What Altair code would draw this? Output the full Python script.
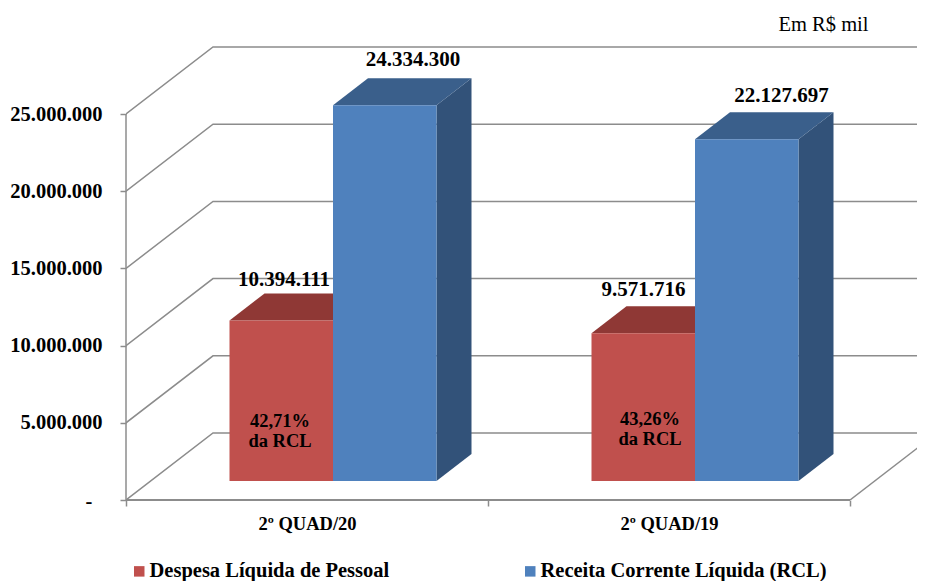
import altair as alt
import pandas as pd

# --- chart values -----------------------------------------------------------
categories = ["2º QUAD/20", "2º QUAD/19"]
series = ["Despesa Líquida de Pessoal", "Receita Corrente Líquida (RCL)"]
despesa = [10394111, 9571716]
receita = [24334300, 22127697]
percent_labels = ["42,71%\nda RCL", "43,26%\nda RCL"]
y_ticks = [0, 5000000, 10000000, 15000000, 20000000, 25000000]
zero_label = "-"
unit_note = "Em R$ mil"

# --- layout constants (pixels of the reference) -----------------------------
PLOT_W, PLOT_H = 791, 492
PX_PER_CAT = 362.0
PX_PER_VAL = 77.2 / 5000000.0
px_x = lambda p: p / PX_PER_CAT
px_y = lambda p: p / PX_PER_VAL

x_scale = alt.Scale(domain=[0, PLOT_W / PX_PER_CAT], range=[0, PLOT_W], nice=False, zero=False)
y_scale = alt.Scale(domain=[0, PLOT_H / PX_PER_VAL], range=[PLOT_H, 0], nice=False, zero=False)
GRID = "#8c8c8c"
FONT = "Liberation Serif"

WALL_DX, WALL_DY = px_x(87), px_y(67)
BAR_DX, BAR_DY = px_x(35), px_y(27)
BAR_BASE = px_y(19)
BAR_W = px_x(103.5)
BAR_START = px_x(103.5)
face_colors = {
    series[0]: {"side": "#8a3432", "top": "#8f3835", "front": "#c0504d"},
    series[1]: {"side": "#325279", "top": "#3a5f8b", "front": "#4f81bd"},
}
# label offsets from the front-top-left corner of each bar (px right, px up)
label_off = {(0, 0): (54.5, 41), (0, 1): (80, 45), (1, 0): (52, 43), (1, 1): (86.5, 43)}
pct_pos = [(280, 421), (650, 419)]

x_axis = alt.Axis(
    values=[0, 0.5, 1, 1.5, 2], title=None, grid=False, domain=False,
    labelExpr="datum.value == 0.5 ? '%s' : datum.value == 1.5 ? '%s' : ''" % tuple(categories),
    labelFont=FONT, labelFontSize=18.5, labelFontWeight="bold", labelColor="#000000",
    labelPadding=8, labelFlush=False, labelOverlap=False, labelBound=False,
    tickColor={"expr": "datum.value % 1 == 0 ? '#8c8c8c' : 'transparent'"},
    tickSize=6, tickWidth=1.5,
)
y_axis = alt.Axis(
    values=y_ticks, title=None, grid=False, domain=False,
    labelExpr="datum.value == 0 ? '' : replace(format(datum.value, ',.0f'), /,/g, '.')",
    labelFont=FONT, labelFontSize=20.5, labelFontWeight="bold", labelColor="#000000",
    labelPadding=18, labelOverlap=False, labelBound=False,
    tickColor=GRID, tickSize=6, tickWidth=1.5,
)


def X(field="x", **kw):
    return alt.X(field, type="quantitative", scale=x_scale, axis=x_axis, **kw)


def Y(field="y", **kw):
    return alt.Y(field, type="quantitative", scale=y_scale, axis=y_axis, stack=None, **kw)


# --- tables built from the values -------------------------------------------
fronts, sides, tops, value_labels = [], [], [], []
for i, _ in enumerate(categories):
    for s, vals in enumerate([despesa, receita]):
        name = series[s]
        v = vals[i]
        x0 = i + BAR_START + s * BAR_W
        x1 = x0 + BAR_W
        top = BAR_BASE + v
        fronts.append({"series": name, "x": x0, "x2": x1, "y": BAR_BASE, "y2": top})
        fid = f"{i}-{s}"
        c = face_colors[name]
        sides += [
            {"id": fid, "fill": c["side"], "x": x1, "y": BAR_BASE, "y2": top},
            {"id": fid, "fill": c["side"], "x": x1 + BAR_DX, "y": BAR_BASE + BAR_DY, "y2": top + BAR_DY},
        ]
        tops += [
            {"id": fid, "fill": c["top"], "y": top, "x": x0, "x2": x1},
            {"id": fid, "fill": c["top"], "y": top + BAR_DY, "x": x0 + BAR_DX, "x2": x1 + BAR_DX},
        ]
        ox, oy = label_off[(i, s)]
        value_labels.append({"x": x0 + px_x(ox), "y": top + px_y(oy),
                             "t": f"{v:,}".replace(",", ".")})

wall = []
for t in y_ticks:
    wall += [
        {"t": t, "x": 0, "y": t},
        {"t": t, "x": WALL_DX, "y": t + WALL_DY},
        {"t": t, "x": PLOT_W / PX_PER_CAT, "y": t + WALL_DY},
    ]
floor_edge = [{"x": 2, "y": 0}, {"x": 2 + WALL_DX, "y": WALL_DY}]
pct = [{"x": px_x(p[0] - 126), "y": px_y(500 - p[1]), "t": t} for p, t in zip(pct_pos, percent_labels)]
note = [{"x": px_x(823.5 - 126), "y": px_y(500 - 25), "t": unit_note}]
zero_tick = [{"x": px_x(89 - 126), "y": px_y(500 - 502), "t": zero_label}]

# --- layers -----------------------------------------------------------------
x_line = alt.Chart(pd.DataFrame({"x": [0], "x2": [2], "y": [0]})).mark_rule(
    stroke=GRID, strokeWidth=2
).encode(x=X(), x2="x2:Q", y=Y())
y_line = alt.Chart(pd.DataFrame({"x": [0], "y": [0], "y2": [y_ticks[-1]]})).mark_rule(
    stroke=GRID, strokeWidth=1.5
).encode(x=X(), y=Y(), y2="y2:Q")

wall_layer = alt.Chart(pd.DataFrame(wall)).mark_line(stroke=GRID, strokeWidth=1.5, clip=True).encode(
    x=X(), y=Y(), detail="t:N"
)
floor_layer = alt.Chart(pd.DataFrame(floor_edge)).mark_line(stroke=GRID, strokeWidth=1.5, clip=True).encode(
    x=X(), y=Y()
)
side_layer = alt.Chart(pd.DataFrame(sides)).mark_area().encode(
    x=X(), y=Y(), y2="y2:Q", detail="id:N", fill=alt.Fill("fill:N", scale=None, legend=None)
)
top_layer = alt.Chart(pd.DataFrame(tops)).mark_area(orient="horizontal").encode(
    y=Y(), x=alt.X("x:Q", scale=x_scale, axis=x_axis, stack=None), x2="x2:Q",
    detail="id:N", fill=alt.Fill("fill:N", scale=None, legend=None),
)
front_layer = alt.Chart(pd.DataFrame(fronts)).mark_rect().encode(
    x=X(), x2="x2:Q", y=Y(), y2="y2:Q",
    color=alt.Color(
        "series:N",
        scale=alt.Scale(domain=series, range=[face_colors[n]["front"] for n in series]),
        legend=alt.Legend(
            title=None, orient="none", legendX=3, legendY=553, direction="horizontal", columns=2,
            columnPadding=130, symbolType="square", symbolSize=110, symbolStrokeWidth=0, labelOffset=0,
            labelFont=FONT, labelFontSize=20.5, labelFontWeight="bold", labelColor="#000000", labelLimit=400,
        ),
    ),
)
value_layer = alt.Chart(pd.DataFrame(value_labels)).mark_text(
    font=FONT, fontSize=21, fontWeight="bold", color="#000000", baseline="middle"
).encode(x=X(), y=Y(), text="t:N")
pct_layer = alt.Chart(pd.DataFrame(pct)).mark_text(
    font=FONT, fontSize=18.5, fontWeight="bold", color="#000000", baseline="middle", lineBreak="\n", lineHeight=20
).encode(x=X(), y=Y(), text="t:N")
note_layer = alt.Chart(pd.DataFrame(note)).mark_text(
    font=FONT, fontSize=20.5, color="#000000", baseline="middle"
).encode(x=X(), y=Y(), text="t:N")
zero_layer = alt.Chart(pd.DataFrame(zero_tick)).mark_text(
    font=FONT, fontSize=20.5, fontWeight="bold", color="#000000", baseline="middle"
).encode(x=X(), y=Y(), text="t:N")

chart = alt.layer(
    wall_layer, floor_layer, x_line, y_line, side_layer, top_layer, front_layer,
    value_layer, pct_layer, note_layer, zero_layer,
).properties(
    width=PLOT_W, height=PLOT_H, autosize=alt.AutoSizeParams(type="none"),
    padding={"left": 118, "right": 0, "top": 0, "bottom": 81},
).configure_view(stroke=None)

chart.save("out.html", embed_options={"renderer": "svg", "actions": False})
